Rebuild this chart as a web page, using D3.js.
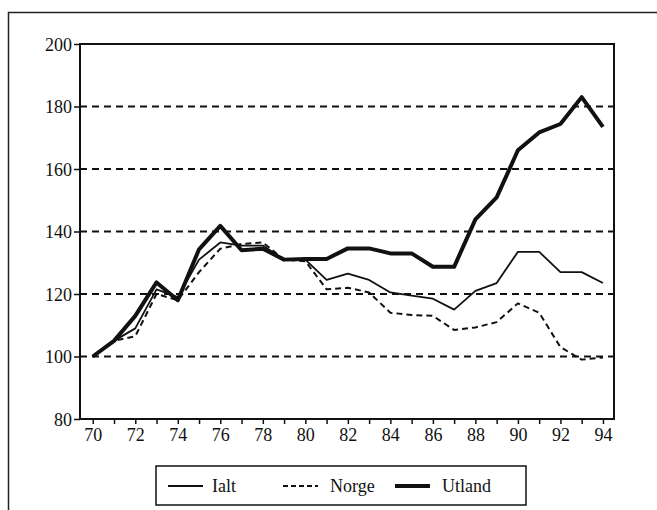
<!DOCTYPE html>
<html>
<head>
<meta charset="utf-8">
<script src="https://cdn.jsdelivr.net/npm/d3@7"></script>
<style>
  body { margin: 0; background: #fff; }
  svg text { font-family: "Liberation Serif", "DejaVu Serif", serif; fill: #111; }
</style>
</head>
<body>
<svg id="graph" width="657" height="510"></svg>
<script>
(function() {

const years = d3.range(70, 95);
const ialt = [100, 105, 109, 121.5, 119, 131, 136.5, 135.5, 135.5, 131, 131, 124.5, 126.5,
  124.5, 120.5, 119.5, 118.5, 115, 121, 123.5, 133.5, 133.5, 127, 127, 123.5];
const norge = [100, 105, 106.5, 120, 118, 127, 134.5, 136, 136.5, 131, 130.5, 121.5, 122,
  120.5, 114, 113.3, 113, 108.5, 109.3, 111, 117, 114, 103, 99, 99.7];
const utland = [100, 105, 113, 123.7, 118, 134.3, 141.8, 134, 134.5, 131, 131.2, 131.2, 134.6,
  134.6, 133, 133, 128.7, 128.7, 143.9, 150.9, 166, 171.7, 174.4, 183, 173.5];
const yTicks = [80, 100, 120, 140, 160, 180, 200];
const gridValues = [100, 120, 140, 160, 180];
const xLabels = d3.range(70, 95, 2);

const series = [
  {name: 'Ialt', values: ialt, width: 1.8, dash: null},
  {name: 'Norge', values: norge, width: 2, dash: '6,4'},
  {name: 'Utland', values: utland, width: 4, dash: null}
];

const svg = d3.select('#graph');
const left = 80, right = 614, top = 44, bottom = 419;

const x = d3.scaleLinear().domain([69.4, 94.52]).range([left, right]);
const y = d3.scaleLinear().domain([80, 200]).range([bottom, top]);

// outer frame (top and left edges visible)
svg.append('path')
  .attr('d', 'M8.5,510 V12.5 H657')
  .attr('fill', 'none')
  .attr('stroke', '#222')
  .attr('stroke-width', 1.5);

// grid
svg.append('g')
  .selectAll('line')
  .data(gridValues)
  .enter().append('line')
    .attr('x1', left)
    .attr('x2', right)
    .attr('y1', d => y(d))
    .attr('y2', d => y(d))
    .attr('stroke', '#111')
    .attr('stroke-width', 2)
    .attr('stroke-dasharray', '7,5');

// plot box
svg.append('rect')
  .attr('x', left)
  .attr('y', top)
  .attr('width', right - left)
  .attr('height', bottom - top)
  .attr('fill', 'none')
  .attr('stroke', '#111')
  .attr('stroke-width', 2);

// y axis
const yAxis = svg.append('g')
  .attr('transform', `translate(${left},0)`)
  .call(d3.axisLeft(y).tickValues(yTicks).tickSize(6).tickPadding(2).tickFormat(d3.format('d')));
yAxis.select('.domain').remove();
yAxis.selectAll('line').attr('stroke', '#111').attr('stroke-width', 1.5);
yAxis.selectAll('text').style('font-size', '18px').attr('dy', '0.35em');

// x axis
const xAxis = svg.append('g')
  .attr('transform', `translate(0,${bottom})`)
  .call(d3.axisBottom(x).tickValues(years).tickSize(5).tickPadding(4)
    .tickFormat(d => xLabels.includes(d) ? d : ''));
xAxis.select('.domain').remove();
xAxis.selectAll('line').attr('stroke', '#111').attr('stroke-width', 1.5);
xAxis.selectAll('text').style('font-size', '18px');

// lines
const line = d3.line()
  .x((d, i) => x(years[i]))
  .y(d => y(d));

svg.append('g')
  .selectAll('path')
  .data(series)
  .enter().append('path')
    .attr('d', d => line(d.values))
    .attr('fill', 'none')
    .attr('stroke', '#111')
    .attr('stroke-width', d => d.width)
    .attr('stroke-dasharray', d => d.dash)
    .attr('stroke-linejoin', 'round');

// legend
const legend = svg.append('g');
legend.append('rect')
  .attr('x', 156)
  .attr('y', 466)
  .attr('width', 370)
  .attr('height', 39)
  .attr('fill', '#fff')
  .attr('stroke', '#111')
  .attr('stroke-width', 1.5);

const legendX = [168, 283, 395];
const item = legend.selectAll('.item')
  .data(series)
  .enter().append('g')
    .attr('class', 'item')
    .attr('transform', (d, i) => `translate(${legendX[i]},486)`);

item.append('line')
  .attr('x1', 0)
  .attr('x2', 35)
  .attr('stroke', '#111')
  .attr('stroke-width', d => d.width)
  .attr('stroke-dasharray', d => d.dash ? '5,3' : null);

item.append('text')
  .attr('x', (d, i) => i === 0 ? 44 : 47)
  .attr('dy', '0.35em')
  .style('font-size', '18px')
  .text(d => d.name);

})();
</script>
</body>
</html>
